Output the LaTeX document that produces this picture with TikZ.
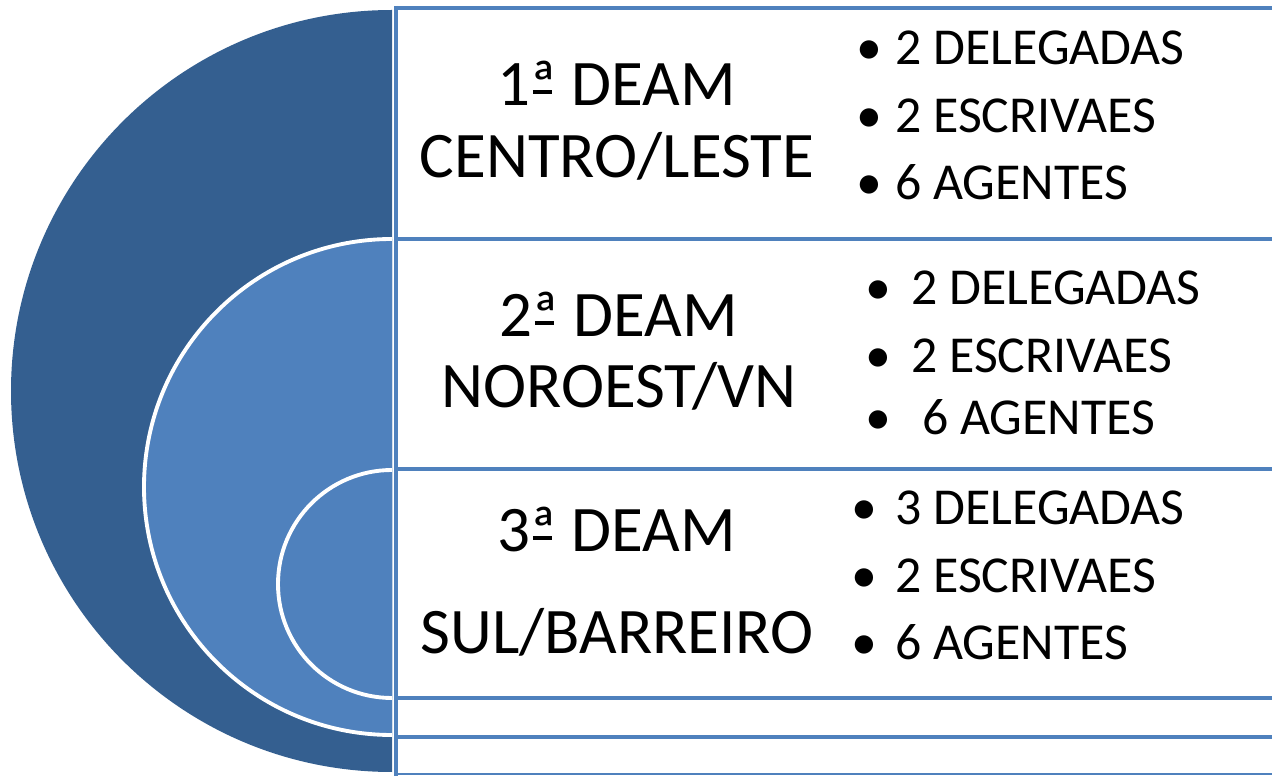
\documentclass[tikz,border=0pt]{standalone}
\usepackage{fontspec}
\setmainfont{Carlito}
\usetikzlibrary{positioning}
\definecolor{deamdark}{RGB}{52,95,144}
\definecolor{deamlight}{RGB}{79,129,189}
% underlined ordinal sign, as the picture prints it
\newcommand{\ordsign}{\rlap{\hspace{0.03em}\rule[0.19em]{0.3em}{0.05em}}ª}

\begin{document}
\begin{tikzpicture}[x=0.02cm, y=0.02cm,
  title/.style={anchor=base, font=\fontsize{37}{44}\selectfont, inner sep=0pt},
  item/.style={anchor=base west, font=\fontsize{29.5}{36}\selectfont, inner sep=0pt},
  frame/.style={deamlight, line width=2.8pt}]
  \useasboundingbox (0,0) rectangle (1272,775);
  % nested half disks
  \begin{scope}
    \clip (0,0) rectangle (392,775);
    \fill[deamdark] (392,384) circle (381);
    \filldraw[fill=deamlight, draw=white, line width=2.2pt] (392,288) circle (248);
    \filldraw[fill=deamlight, draw=white, line width=2.2pt] (392,191) circle (114);
  \end{scope}
  % boxes
  \foreach \y in {767,536,306,77,38}
    \draw[frame] (396,\y) -- (1280,\y);
  \draw[deamlight, line width=1.2pt] (396,1) -- (1280,1);
  \draw[frame] (396,769) -- (396,-5);
  % 1a DEAM
  \node[title] (t1a) at (617,669) {1\ordsign{} DEAM};
  \node[title] (t1b) at (617,597) {CENTRO/LESTE};
  \node[item] (b1a) at (856,710) {•};
  \node[item] (b1b) at (856,642) {•};
  \node[item] (b1c) at (856,575) {•};
  \node[item] (i1a) at (895,710) {2 DELEGADAS};
  \node[item] (i1b) at (895,642) {2 ESCRIVAES};
  \node[item] (i1c) at (895,575) {6 AGENTES};
  % 2a DEAM
  \node[title] (t2a) at (619,438) {2\ordsign{} DEAM};
  \node[title] (t2b) at (619,367) {NOROEST/VN};
  \node[item] (b2a) at (865,470) {•};
  \node[item] (b2b) at (865,402) {•};
  \node[item] (b2c) at (865,340) {•};
  \node[item] (i2a) at (911,470) {2 DELEGADAS};
  \node[item] (i2b) at (911,402) {2 ESCRIVAES};
  \node[item] (i2c) at (922,340) {6 AGENTES};
  % 3a DEAM
  \node[title] (t3a) at (617,223) {3\ordsign{} DEAM};
  \node[title] (t3b) at (617,122) {SUL/BARREIRO};
  \node[item] (b3a) at (851,250) {•};
  \node[item] (b3b) at (851,182) {•};
  \node[item] (b3c) at (851,115) {•};
  \node[item] (i3a) at (895,250) {3 DELEGADAS};
  \node[item] (i3b) at (895,182) {2 ESCRIVAES};
  \node[item] (i3c) at (895,115) {6 AGENTES};
\end{tikzpicture}
\end{document}
